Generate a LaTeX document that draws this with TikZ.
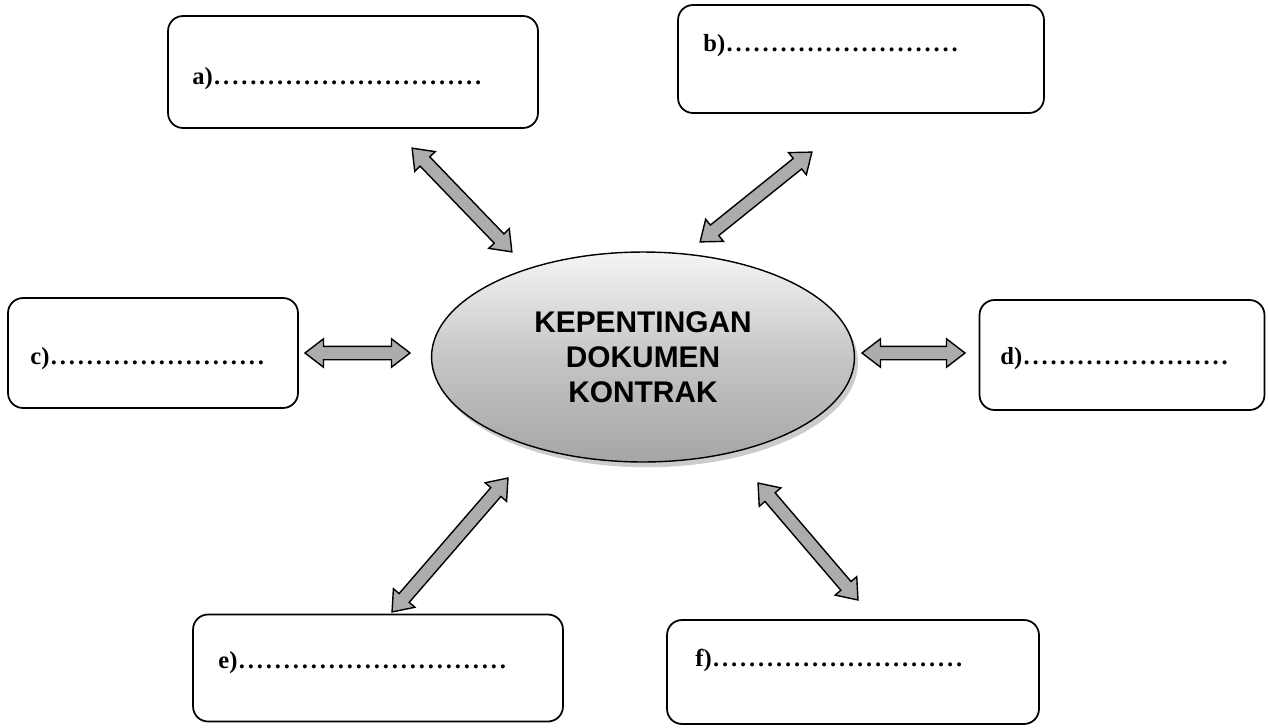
\documentclass[tikz,border=0pt]{standalone}
\usepackage{fontspec}
\setmainfont{Liberation Serif}
\newfontfamily\headfont{Liberation Sans}
\usetikzlibrary{shapes.geometric,shapes.arrows,shadows,calc}
\newcommand{\dotline}[1]{\hbox to #1{\leaders\hbox to 0.18cm{\hss.\hss}\hfill}}
\tikzset{
	answerbox/.style={draw,line width=1pt,rounded corners=0.3cm},
	answertext/.style={anchor=base west,inner sep=0pt,font=\bfseries\fontsize{14}{16}\selectfont},
	dblarrow/.style={double arrow,draw,line width=0.8pt,fill=gray!65,inner xsep=0pt,inner ysep=0.12cm,
		double arrow head extend=0.15cm,double arrow tip angle=75}
}
\newcommand{\blockarrow}[2]{\path let \p1=($(#2)-(#1)$),\n1={atan2(\y1,\x1)},\n2={veclen(\x1,\y1)} in
	node[dblarrow,minimum height=\n2,rotate=\n1] at ($(#1)!0.5!(#2)$) {};}
\begin{document}
\begin{tikzpicture}[x=0.02cm,y=-0.02cm]
		\useasboundingbox (0,0) rectangle (1268,727);
		% boxes
		\node[answerbox,minimum width=7.4cm,minimum height=2.24cm] (boxa) at (353,72) {};
		\node[answerbox,minimum width=7.32cm,minimum height=2.16cm] (boxb) at (861,59) {};
		\node[answerbox,minimum width=5.8cm,minimum height=2.2cm] (boxc) at (153,353) {};
		\node[answerbox,minimum width=5.7cm,minimum height=2.2cm] (boxd) at (1122,355) {};
		\node[answerbox,minimum width=7.4cm,minimum height=2.14cm] (boxe) at (378,668) {};
		\node[answerbox,minimum width=7.44cm,minimum height=2.08cm] (boxf) at (853,672) {};
		\node[answertext] (ta) at (192,84) {a)\dotline{5.4cm}};
		\node[answertext] (tb) at (703,51) {b)\dotline{4.7cm}};
		\node[answertext] (tc) at (30,364) {c)\dotline{4.45cm}};
		\node[answertext] (td) at (1000,364) {d)\dotline{4.25cm}};
		\node[answertext] (te) at (218,668) {e)\dotline{5.4cm}};
		\node[answertext] (tf) at (695,666) {f)\dotline{5.2cm}};
		% centre
		\node[ellipse,draw,line width=0.8pt,minimum width=8.46cm,minimum height=4.2cm,inner sep=0pt,
			top color=gray!8,bottom color=gray!70,middle color=gray!45,
			drop shadow={shadow xshift=2pt,shadow yshift=-3pt,fill=gray!80},
			align=center,font=\headfont\bfseries\fontsize{17}{20}\selectfont] (centre) at (643,357)
			{KEPENTINGAN\\DOKUMEN\\KONTRAK};
		% arrows
		\coordinate (a1) at (412,148); \coordinate (a2) at (512,252);
		\coordinate (b1) at (700,242); \coordinate (b2) at (812,152);
		\coordinate (c1) at (305,353); \coordinate (c2) at (410,353);
		\coordinate (d1) at (862,353); \coordinate (d2) at (965,353);
		\coordinate (e1) at (392,612); \coordinate (e2) at (508,478);
		\coordinate (f1) at (758,483); \coordinate (f2) at (858,600);
		\blockarrow{a1}{a2}
		\blockarrow{b1}{b2}
		\blockarrow{c1}{c2}
		\blockarrow{d1}{d2}
		\blockarrow{e1}{e2}
		\blockarrow{f1}{f2}
\end{tikzpicture}
\end{document}
